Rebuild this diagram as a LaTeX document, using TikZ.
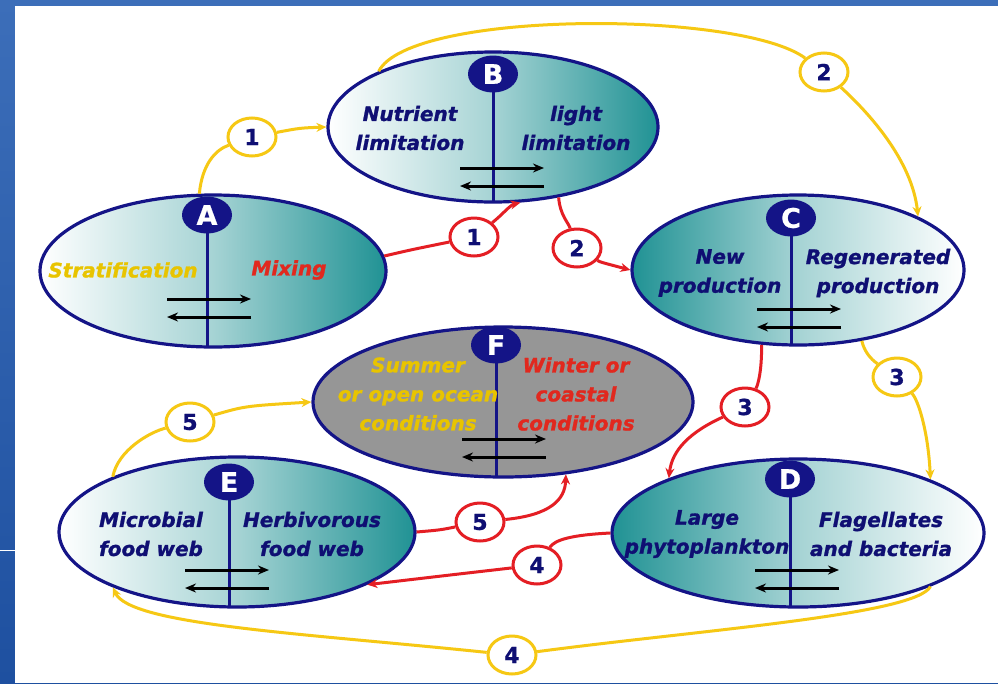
\documentclass[tikz,border=0pt]{standalone}
\usepackage{fontspec}
\usetikzlibrary{shapes.geometric,arrows.meta}
\newfontfamily\heavyital{DejaVu Sans Bold Oblique}[FakeBold=1.2]
\newfontfamily\heavyup{DejaVu Sans Bold}[FakeBold=0.8]
\definecolor{navy}{RGB}{20,20,135}
\definecolor{navytext}{RGB}{15,15,115}
\definecolor{tealc}{RGB}{32,146,148}
\definecolor{goldc}{RGB}{246,200,20}
\definecolor{goldtext}{RGB}{232,196,0}
\definecolor{redc}{RGB}{228,30,36}
\definecolor{redtext}{RGB}{225,40,30}
\definecolor{grayfill}{RGB}{150,150,150}
\definecolor{bgbluetop}{RGB}{60,110,185}
\definecolor{bgbluebot}{RGB}{30,80,160}
\begin{document}
\begin{tikzpicture}[x=1pt,y=-1pt,
  stage/.style={ellipse, draw=navy, line width=3.2pt, inner sep=0pt},
  lightleft/.style={left color=white, right color=tealc, middle color=tealc!40!white},
  lightright/.style={left color=tealc, right color=white, middle color=tealc!40!white},
  badge/.style={ellipse, fill=navy, minimum width=50pt, minimum height=37pt, inner sep=0pt,
    text=white, font=\heavyup\fontsize{27}{27}\selectfont},
  txt/.style={align=center, inner sep=0pt, text=navytext,
    font=\heavyital\fontsize{20}{29}\selectfont},
  num/.style={ellipse, fill=white, draw=#1, line width=3pt, minimum width=48pt,
    minimum height=38pt, inner sep=0pt, text=navytext,
    font=\heavyup\fontsize{22}{22}\selectfont},
  conn/.style={draw=#1, line width=3pt},
  arrowend/.style={-{Stealth[length=10pt,width=9pt]}},
  divider/.style={draw=navy, line width=3pt},
  twoway/.pic={
    \draw[line width=3pt, -{Stealth[length=11pt,width=9pt]}] (0,0) -- (84,0);
    \draw[line width=3pt, -{Stealth[length=11pt,width=9pt]}] (84,18) -- (0,18);
  }
]
\useasboundingbox (0,0) rectangle (998,683);

% slide background and white panel
\shade[top color=bgbluetop, bottom color=bgbluebot] (0,0) rectangle (998,683);
\fill[white] (15,6) rectangle (998,683);
\draw[white, line width=1pt] (0,550) -- (15,550);

% the six stages
\node[stage, lightleft,  minimum width=346pt, minimum height=152pt] (A) at (213,271) {};
\node[stage, lightleft,  minimum width=330pt, minimum height=150pt] (B) at (493,127) {};
\node[stage, lightright, minimum width=332pt, minimum height=150pt] (C) at (798,270) {};
\node[stage, lightright, minimum width=372pt, minimum height=148pt] (D) at (798,533) {};
\node[stage, lightleft,  minimum width=356pt, minimum height=150pt] (E) at (237,532) {};
\node[stage, fill=grayfill, minimum width=380pt, minimum height=150pt] (F) at (503,402) {};

% dividing stems
\draw[divider] (207,215) -- (207,346);
\draw[divider] (493,74) -- (493,202);
\draw[divider] (791,218) -- (791,345);
\draw[divider] (790,479) -- (790,606);
\draw[divider] (229,482) -- (229,607);
\draw[divider] (496,345) -- (496,477);

% two-way arrows
\pic at (167,299) {twoway};
\pic at (460,168) {twoway};
\pic at (757,309) {twoway};
\pic at (755,570) {twoway};
\pic at (185,570) {twoway};
\pic at (462,439) {twoway};

% letter badges
\node[badge] (bA) at (207,215) {A};
\node[badge] (bB) at (493,74) {B};
\node[badge] (bC) at (791,218) {C};
\node[badge] (bD) at (790,479) {D};
\node[badge] (bE) at (229,482) {E};
\node[badge] (bF) at (496,345) {F};

% stage texts
\node[txt, text=goldtext] (tA1) at (123,270) {Stratification};
\node[txt, text=redtext]  (tA2) at (289,270) {Mixing};
\node[txt] (tB1) at (410,128) {Nutrient\\limitation};
\node[txt] (tB2) at (576,128) {light\\limitation};
\node[txt] (tC1) at (720,273) {New\\production};
\node[txt] (tC2) at (878,273) {Regenerated\\production};
\node[txt] (tD1) at (707,534) {Large\\phytoplankton};
\node[txt] (tD2) at (881,534) {Flagellates\\and bacteria};
\node[txt] (tE1) at (151,534) {Microbial\\food web};
\node[txt] (tE2) at (312,534) {Herbivorous\\food web};
\node[txt, text=goldtext] (tF1) at (418,394) {Summer\\or open ocean\\conditions};
\node[txt, text=redtext]  (tF2) at (576,394) {Winter or\\coastal\\conditions};

% numbered step labels
\node[num=goldc] (y1) at (252,137) {1};
\node[num=goldc] (y2) at (824,72)  {2};
\node[num=goldc] (y3) at (897,377) {3};
\node[num=goldc] (y4) at (512,655) {4};
\node[num=goldc] (y5) at (190,422) {5};
\node[num=redc]  (r1) at (474,237) {1};
\node[num=redc]  (r2) at (577,248) {2};
\node[num=redc]  (r3) at (745,407) {3};
\node[num=redc]  (r4) at (537,565) {4};
\node[num=redc]  (r5) at (480,522) {5};

% yellow pathway
\draw[conn=goldc] (A.100) .. controls (202,165) and (215,150) .. (y1);
\draw[conn=goldc, arrowend] (y1) .. controls (300,128) .. (B.180);
\draw[conn=goldc] (B.154) .. controls (410,10) and (740,10) .. (y2);
\draw[conn=goldc, arrowend] (y2) .. controls (868,112) and (912,160) .. (C.24);
\draw[conn=goldc] (C.-48) .. controls (865,355) and (875,362) .. (y3);
\draw[conn=goldc, arrowend] (y3) .. controls (918,400) and (928,430) .. (D.22);
\draw[conn=goldc] (D.-22) .. controls (915,615) and (700,630) .. (y4);
\draw[conn=goldc, arrowend] (y4) .. controls (300,633) and (130,625) .. (E.204);
\draw[conn=goldc] (E.156) .. controls (118,450) and (150,432) .. (y5);
\draw[conn=goldc, arrowend] (y5) .. controls (245,406) .. (F.180);

% red pathway
\draw[conn=redc] (A.5) .. controls (410,250) .. (r1);
\draw[conn=redc, arrowend] (r1) .. controls (502,215) and (510,205) .. (B.-70);
\draw[conn=redc] (B.-47) .. controls (560,215) and (568,222) .. (r2);
\draw[conn=redc, arrowend] (r2) .. controls (600,262) .. (C.180);
\draw[conn=redc] (C.244) .. controls (762,370) and (758,385) .. (r3);
\draw[conn=redc, arrowend] (r3) .. controls (690,432) and (672,450) .. (D.157);
\draw[conn=redc] (D.180) .. controls (570,535) and (555,540) .. (r4);
\draw[conn=redc, arrowend] (r4) .. controls (450,575) .. (E.-22);
\draw[conn=redc] (E.0) .. controls (440,530) .. (r5);
\draw[conn=redc, arrowend] (r5) .. controls (550,515) and (565,500) .. (F.-49);
\end{tikzpicture}
\end{document}
